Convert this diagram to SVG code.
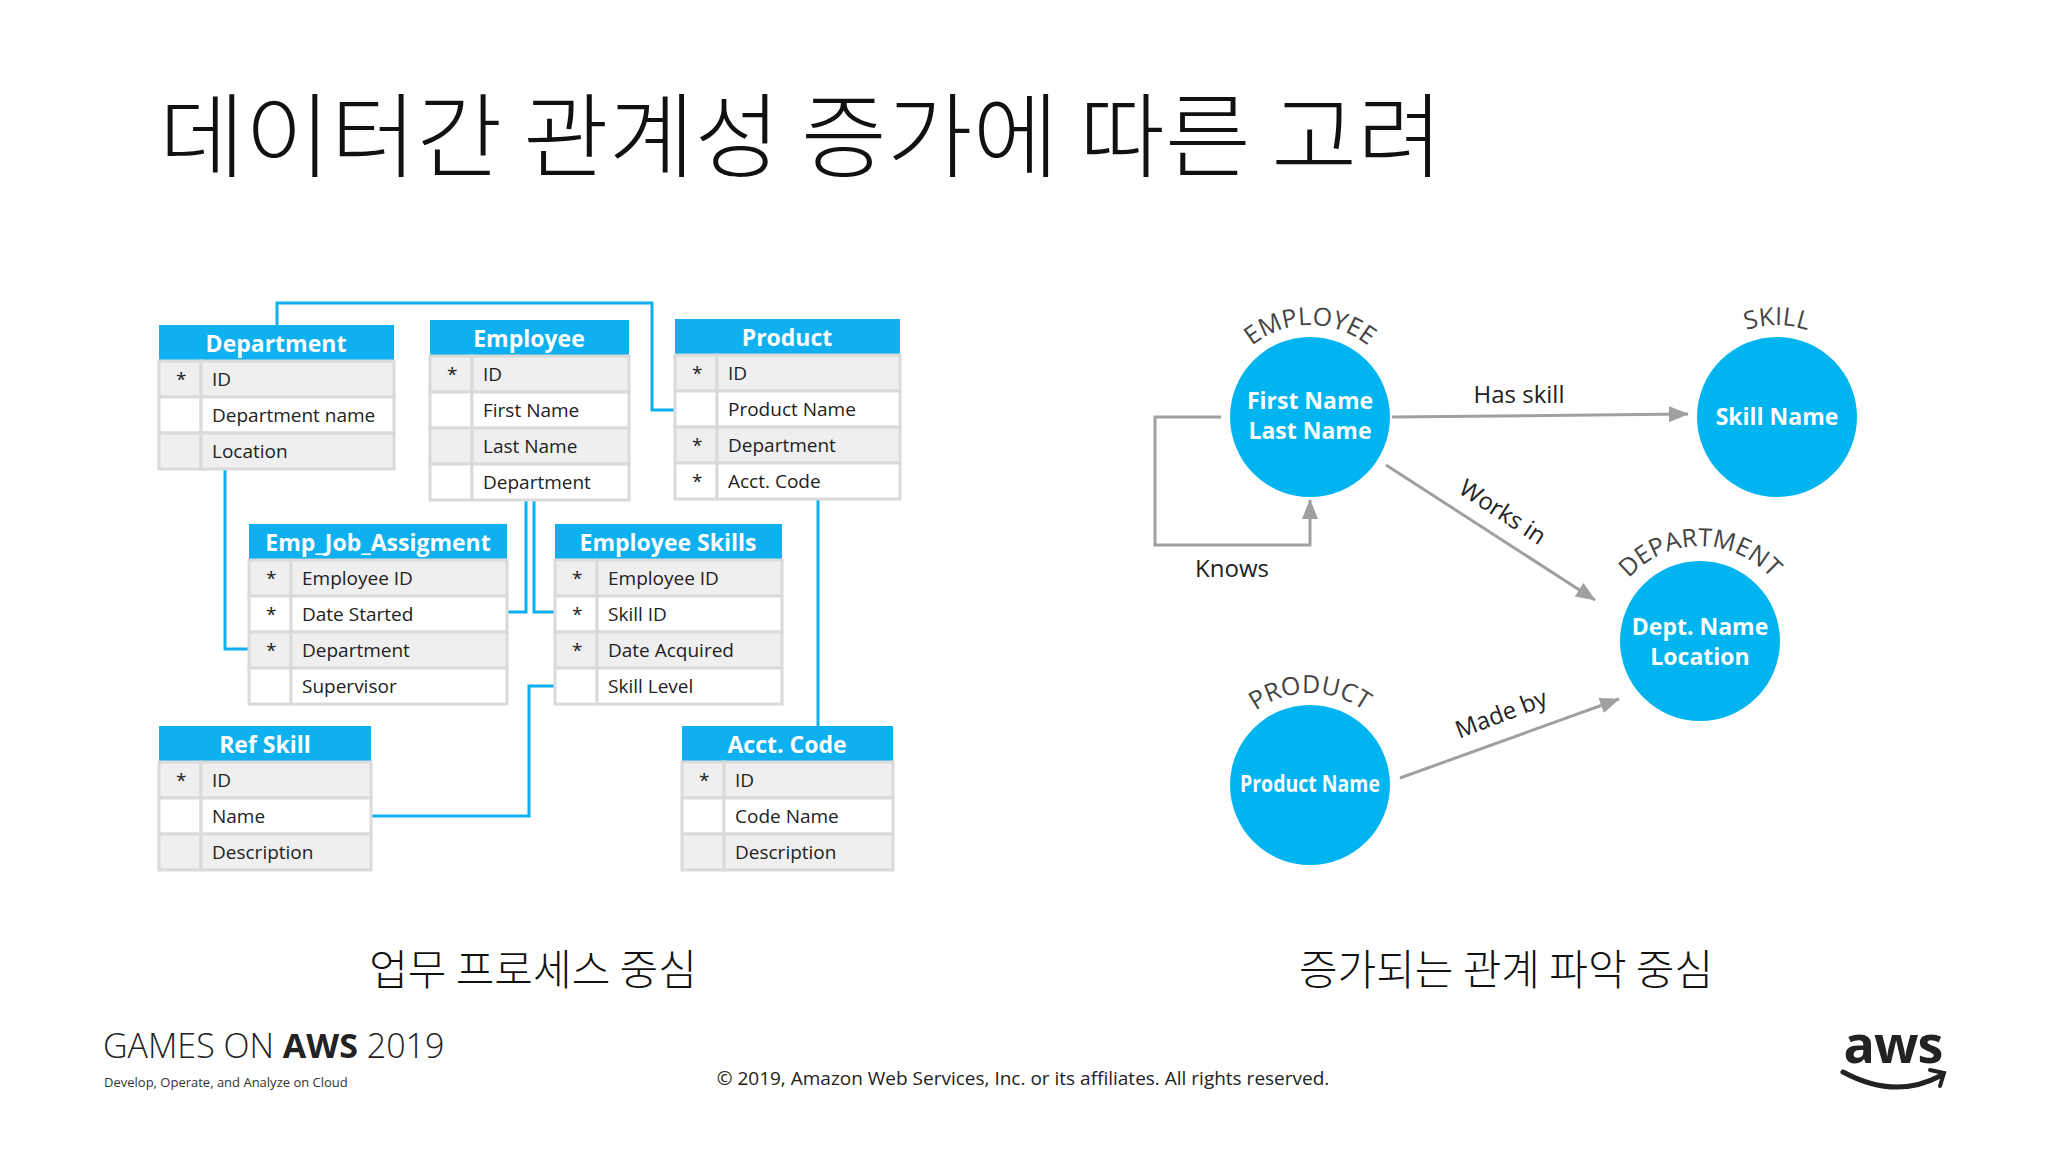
<svg xmlns="http://www.w3.org/2000/svg" width="2048" height="1152" viewBox="0 0 2048 1152">
<defs>
<style>
.hd{fill:#0fb0ef}
.ht{font-family:"Open Sans","Noto Sans",sans-serif;font-weight:bold;font-size:23px;fill:#fff;text-anchor:middle}
.g{fill:#efefef;stroke:#dadada;stroke-width:3}
.w{fill:#fff;stroke:#dadada;stroke-width:3}
.t{font-family:"Open Sans","Noto Sans",sans-serif;font-size:19px;fill:#222}
.c{fill:none;stroke:#0fb0ef;stroke-width:3}
.ge{fill:none;stroke:#a0a0a0;stroke-width:3}
.cir{fill:#00b4f0}
.ct{font-family:"Open Sans","Noto Sans",sans-serif;font-weight:bold;font-size:23px;fill:#fff;text-anchor:middle}
.al{font-family:"Open Sans","Noto Sans",sans-serif;font-size:25px;fill:#444;text-anchor:middle}
.el{font-family:"Open Sans","Noto Sans",sans-serif;font-size:24px;fill:#222}
.kr{font-family:"Noto Sans CJK KR",sans-serif;fill:#111}
</style>
<marker id="ar" markerWidth="20" markerHeight="16" refX="19" refY="8" orient="auto" markerUnits="userSpaceOnUse" viewBox="0 0 20 16"><path d="M0,0 L20,8 L0,16 Z" fill="#a0a0a0"/></marker>
<path id="pEmp" d="M1245,352 A92,92 0 0 1 1375,352"/>
<path id="pSk" d="M1712,352 A92,92 0 0 1 1842,352"/>
<path id="pDep" d="M1611,608 A95,95 0 0 1 1789,608"/>
<path id="pPro" d="M1245,720 A92,92 0 0 1 1375,720"/>
</defs>
<rect width="2048" height="1152" fill="#fff"/>
<text class="kr" x="159" y="170" font-size="92" font-weight="300" textLength="1284" lengthAdjust="spacingAndGlyphs">데이터간 관계성 증가에 따른 고려</text>

<g id="connectors">
<polyline class="c" points="277,325 277,303 652,303 652,410 675,410"/>
<polyline class="c" points="225,469 225,649 249,649"/>
<polyline class="c" points="526,500 526,612 507,612"/>
<polyline class="c" points="534,500 534,612 555,612"/>
<polyline class="c" points="555,686 529,686 529,816 371,816"/>
<polyline class="c" points="818,499 818,726"/>
<polyline class="ge" points="1221,417 1155,417 1155,545 1310,545 1310,500" marker-end="url(#ar)"/>
<line class="ge" x1="1392" y1="417" x2="1688" y2="414" marker-end="url(#ar)"/>
<line class="ge" x1="1386" y1="465" x2="1595" y2="600" marker-end="url(#ar)"/>
<line class="ge" x1="1400" y1="778" x2="1619" y2="699" marker-end="url(#ar)"/>
<text class="el" x="1519" y="403" text-anchor="middle">Has skill</text>
<text class="el" x="1502" y="520" text-anchor="middle" transform="rotate(33 1502 513)">Works in</text>
<text class="el" x="1502" y="722" text-anchor="middle" transform="rotate(-21 1502 716)">Made by</text>
<text class="el" x="1232" y="577" text-anchor="middle">Knows</text>
</g>

<g id="t-department" transform="translate(159,325)">
<rect class="hd" width="235" height="36"/><text class="ht" x="117" y="27">Department</text>
<rect class="g" x="0" y="36" width="42" height="36"/><rect class="g" x="42" y="36" width="193" height="36"/>
<rect class="w" x="0" y="72" width="42" height="36"/><rect class="w" x="42" y="72" width="193" height="36"/>
<rect class="g" x="0" y="108" width="42" height="36"/><rect class="g" x="42" y="108" width="193" height="36"/>
<text class="t" x="17" y="61">*</text><text class="t" x="53" y="61">ID</text>
<text class="t" x="53" y="97">Department name</text>
<text class="t" x="53" y="133">Location</text>
</g>

<g id="t-employee" transform="translate(430,320)">
<rect class="hd" width="199" height="36"/><text class="ht" x="99" y="27">Employee</text>
<rect class="g" x="0" y="36" width="42" height="36"/><rect class="g" x="42" y="36" width="157" height="36"/>
<rect class="w" x="0" y="72" width="42" height="36"/><rect class="w" x="42" y="72" width="157" height="36"/>
<rect class="g" x="0" y="108" width="42" height="36"/><rect class="g" x="42" y="108" width="157" height="36"/>
<rect class="w" x="0" y="144" width="42" height="36"/><rect class="w" x="42" y="144" width="157" height="36"/>
<text class="t" x="17" y="61">*</text><text class="t" x="53" y="61">ID</text>
<text class="t" x="53" y="97">First Name</text>
<text class="t" x="53" y="133">Last Name</text>
<text class="t" x="53" y="169">Department</text>
</g>

<g id="t-product" transform="translate(675,319)">
<rect class="hd" width="225" height="36"/><text class="ht" x="112" y="27">Product</text>
<rect class="g" x="0" y="36" width="42" height="36"/><rect class="g" x="42" y="36" width="183" height="36"/>
<rect class="w" x="0" y="72" width="42" height="36"/><rect class="w" x="42" y="72" width="183" height="36"/>
<rect class="g" x="0" y="108" width="42" height="36"/><rect class="g" x="42" y="108" width="183" height="36"/>
<rect class="w" x="0" y="144" width="42" height="36"/><rect class="w" x="42" y="144" width="183" height="36"/>
<text class="t" x="17" y="61">*</text><text class="t" x="53" y="61">ID</text>
<text class="t" x="53" y="97">Product Name</text>
<text class="t" x="17" y="133">*</text><text class="t" x="53" y="133">Department</text>
<text class="t" x="17" y="169">*</text><text class="t" x="53" y="169">Acct. Code</text>
</g>

<g id="t-empjob" transform="translate(249,524)">
<rect class="hd" width="258" height="36"/><text class="ht" x="129" y="27">Emp_Job_Assigment</text>
<rect class="g" x="0" y="36" width="42" height="36"/><rect class="g" x="42" y="36" width="216" height="36"/>
<rect class="w" x="0" y="72" width="42" height="36"/><rect class="w" x="42" y="72" width="216" height="36"/>
<rect class="g" x="0" y="108" width="42" height="36"/><rect class="g" x="42" y="108" width="216" height="36"/>
<rect class="w" x="0" y="144" width="42" height="36"/><rect class="w" x="42" y="144" width="216" height="36"/>
<text class="t" x="17" y="61">*</text><text class="t" x="53" y="61">Employee ID</text>
<text class="t" x="17" y="97">*</text><text class="t" x="53" y="97">Date Started</text>
<text class="t" x="17" y="133">*</text><text class="t" x="53" y="133">Department</text>
<text class="t" x="53" y="169">Supervisor</text>
</g>

<g id="t-empskills" transform="translate(555,524)">
<rect class="hd" width="227" height="36"/><text class="ht" x="113" y="27">Employee Skills</text>
<rect class="g" x="0" y="36" width="42" height="36"/><rect class="g" x="42" y="36" width="185" height="36"/>
<rect class="w" x="0" y="72" width="42" height="36"/><rect class="w" x="42" y="72" width="185" height="36"/>
<rect class="g" x="0" y="108" width="42" height="36"/><rect class="g" x="42" y="108" width="185" height="36"/>
<rect class="w" x="0" y="144" width="42" height="36"/><rect class="w" x="42" y="144" width="185" height="36"/>
<text class="t" x="17" y="61">*</text><text class="t" x="53" y="61">Employee ID</text>
<text class="t" x="17" y="97">*</text><text class="t" x="53" y="97">Skill ID</text>
<text class="t" x="17" y="133">*</text><text class="t" x="53" y="133">Date Acquired</text>
<text class="t" x="53" y="169">Skill Level</text>
</g>

<g id="t-refskill" transform="translate(159,726)">
<rect class="hd" width="212" height="36"/><text class="ht" x="106" y="27">Ref Skill</text>
<rect class="g" x="0" y="36" width="42" height="36"/><rect class="g" x="42" y="36" width="170" height="36"/>
<rect class="w" x="0" y="72" width="42" height="36"/><rect class="w" x="42" y="72" width="170" height="36"/>
<rect class="g" x="0" y="108" width="42" height="36"/><rect class="g" x="42" y="108" width="170" height="36"/>
<text class="t" x="17" y="61">*</text><text class="t" x="53" y="61">ID</text>
<text class="t" x="53" y="97">Name</text>
<text class="t" x="53" y="133">Description</text>
</g>

<g id="t-acctcode" transform="translate(682,726)">
<rect class="hd" width="211" height="36"/><text class="ht" x="105" y="27">Acct. Code</text>
<rect class="g" x="0" y="36" width="42" height="36"/><rect class="g" x="42" y="36" width="169" height="36"/>
<rect class="w" x="0" y="72" width="42" height="36"/><rect class="w" x="42" y="72" width="169" height="36"/>
<rect class="g" x="0" y="108" width="42" height="36"/><rect class="g" x="42" y="108" width="169" height="36"/>
<text class="t" x="17" y="61">*</text><text class="t" x="53" y="61">ID</text>
<text class="t" x="53" y="97">Code Name</text>
<text class="t" x="53" y="133">Description</text>
</g>

<g id="n-employee">
<circle class="cir" cx="1310" cy="417" r="80"/>
<text class="ct" x="1310" y="409">First Name</text><text class="ct" x="1310" y="439">Last Name</text>
<text class="al"><textPath href="#pEmp" startOffset="50%">EMPLOYEE</textPath></text>
</g>
<g id="n-skill">
<circle class="cir" cx="1777" cy="417" r="80"/>
<text class="ct" x="1777" y="425">Skill Name</text>
<text class="al"><textPath href="#pSk" startOffset="50%">SKILL</textPath></text>
</g>
<g id="n-department">
<circle class="cir" cx="1700" cy="641" r="80"/>
<text class="ct" x="1700" y="635">Dept. Name</text><text class="ct" x="1700" y="665">Location</text>
<text class="al"><textPath href="#pDep" startOffset="50%">DEPARTMENT</textPath></text>
</g>
<g id="n-product">
<circle class="cir" cx="1310" cy="785" r="80"/>
<text class="ct" x="1310" y="792" font-size="20" textLength="140" lengthAdjust="spacingAndGlyphs">Product Name</text>
<text class="al"><textPath href="#pPro" startOffset="50%">PRODUCT</textPath></text>
</g>

<text class="kr" x="533" y="985" font-size="42" text-anchor="middle" font-weight="300">업무 프로세스 중심</text>
<text class="kr" x="1506" y="985" font-size="42" text-anchor="middle" font-weight="300">증가되는 관계 파악 중심</text>

<text x="103" y="1058" font-family="'Open Sans','Noto Sans',sans-serif" font-size="34" fill="#222" font-weight="300">GAMES ON <tspan font-weight="bold">AWS</tspan> 2019</text>
<text x="104" y="1087" font-family="'Open Sans','Noto Sans',sans-serif" font-size="13" fill="#333">Develop, Operate, and Analyze on Cloud</text>
<text x="1023" y="1085" font-family="'Open Sans','Noto Sans',sans-serif" font-size="19" fill="#222" text-anchor="middle">© 2019, Amazon Web Services, Inc. or its affiliates. All rights reserved.</text>
<text x="1893" y="1063" font-family="'Open Sans','Noto Sans',sans-serif" font-size="52" font-weight="bold" fill="#222" text-anchor="middle" letter-spacing="-1">aws</text>
<path d="M1843,1072 Q1895,1100 1940,1076" fill="none" stroke="#222" stroke-width="5" stroke-linecap="round"/>
<path d="M1930,1070 L1944,1073 L1940,1086" fill="none" stroke="#222" stroke-width="4" stroke-linecap="round"/>
</svg>
